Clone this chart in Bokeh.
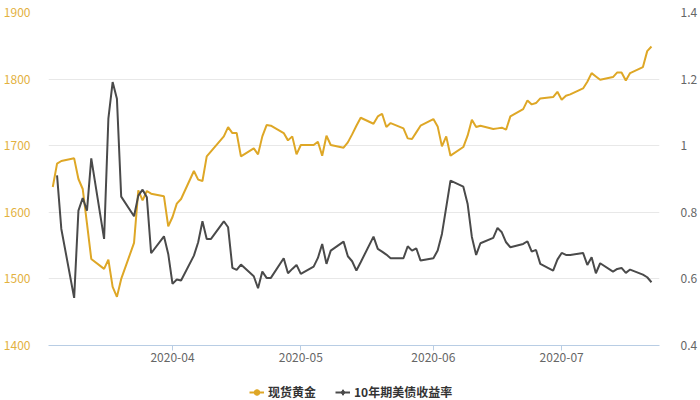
import pandas as pd
from bokeh.plotting import figure
from bokeh.layouts import column
from bokeh.models import (Range1d, LinearAxis, FixedTicker, DatetimeTickFormatter,
                          Legend, LegendItem, ColumnDataSource)
from bokeh.embed import file_html
from bokeh.resources import INLINE

# ---------------- data ----------------
gold_dates = [
    "2020-03-04", "2020-03-05", "2020-03-06", "2020-03-09", "2020-03-10", "2020-03-11", "2020-03-12",
    "2020-03-13", "2020-03-16", "2020-03-17", "2020-03-18", "2020-03-19", "2020-03-20", "2020-03-23",
    "2020-03-24", "2020-03-25", "2020-03-26", "2020-03-27", "2020-03-30", "2020-03-31", "2020-04-01",
    "2020-04-02", "2020-04-03", "2020-04-06", "2020-04-07", "2020-04-08", "2020-04-09", "2020-04-13",
    "2020-04-14", "2020-04-15", "2020-04-16", "2020-04-17", "2020-04-20", "2020-04-21", "2020-04-22",
    "2020-04-23", "2020-04-24", "2020-04-27", "2020-04-28", "2020-04-29", "2020-04-30", "2020-05-01",
    "2020-05-04", "2020-05-05", "2020-05-06", "2020-05-07", "2020-05-08", "2020-05-11", "2020-05-12",
    "2020-05-13", "2020-05-14", "2020-05-15", "2020-05-18", "2020-05-19", "2020-05-20", "2020-05-21",
    "2020-05-22", "2020-05-25", "2020-05-26", "2020-05-27", "2020-05-28", "2020-05-29", "2020-06-01",
    "2020-06-02", "2020-06-03", "2020-06-04", "2020-06-05", "2020-06-08", "2020-06-09", "2020-06-10",
    "2020-06-11", "2020-06-12", "2020-06-15", "2020-06-16", "2020-06-17", "2020-06-18", "2020-06-19",
    "2020-06-22", "2020-06-23", "2020-06-24", "2020-06-25", "2020-06-26", "2020-06-29", "2020-06-30",
    "2020-07-01", "2020-07-02", "2020-07-03", "2020-07-06", "2020-07-07", "2020-07-08", "2020-07-09",
    "2020-07-10", "2020-07-13", "2020-07-14", "2020-07-15", "2020-07-16", "2020-07-17", "2020-07-20",
    "2020-07-21", "2020-07-22",
]
gold_values = [
    1638, 1673, 1677, 1681, 1650, 1635, 1583,
    1530, 1515, 1529, 1488, 1473, 1500, 1554,
    1633, 1618, 1632, 1628, 1624, 1579, 1593,
    1613, 1620, 1662, 1649, 1647, 1684, 1714,
    1728, 1719, 1719, 1684, 1696, 1687, 1714,
    1731, 1730, 1719, 1708, 1714, 1687, 1701,
    1701, 1706, 1685, 1715, 1701, 1697, 1705,
    1717, 1730, 1742, 1733, 1744, 1748, 1728,
    1734, 1726, 1711, 1710, 1720, 1730, 1740,
    1729, 1699, 1714, 1685, 1698, 1715, 1739,
    1728, 1730, 1725, 1726, 1727, 1724, 1744,
    1755, 1768, 1762, 1764, 1771, 1773, 1781,
    1769, 1775, 1777, 1786, 1796, 1809, 1804,
    1799, 1803, 1810, 1810, 1798, 1809, 1818,
    1842, 1849,
]

yield_dates = [
    "2020-03-05", "2020-03-06", "2020-03-09", "2020-03-10", "2020-03-11", "2020-03-12",
    "2020-03-13", "2020-03-16", "2020-03-17", "2020-03-18", "2020-03-19", "2020-03-20", "2020-03-23",
    "2020-03-24", "2020-03-25", "2020-03-26", "2020-03-27", "2020-03-30", "2020-03-31", "2020-04-01",
    "2020-04-02", "2020-04-03", "2020-04-06", "2020-04-07", "2020-04-08", "2020-04-09", "2020-04-10",
    "2020-04-13", "2020-04-14", "2020-04-15", "2020-04-16", "2020-04-17", "2020-04-20", "2020-04-21",
    "2020-04-22", "2020-04-23", "2020-04-24", "2020-04-27", "2020-04-28", "2020-04-29", "2020-04-30",
    "2020-05-01", "2020-05-04", "2020-05-05", "2020-05-06", "2020-05-07", "2020-05-08", "2020-05-11",
    "2020-05-12", "2020-05-13", "2020-05-14", "2020-05-15", "2020-05-18", "2020-05-19", "2020-05-20",
    "2020-05-21", "2020-05-22", "2020-05-25", "2020-05-26", "2020-05-27", "2020-05-28", "2020-05-29",
    "2020-06-01", "2020-06-02", "2020-06-03", "2020-06-04", "2020-06-05", "2020-06-08", "2020-06-09",
    "2020-06-10", "2020-06-11", "2020-06-12", "2020-06-15", "2020-06-16", "2020-06-17", "2020-06-18",
    "2020-06-19", "2020-06-22", "2020-06-23", "2020-06-24", "2020-06-25", "2020-06-26", "2020-06-29",
    "2020-06-30", "2020-07-01", "2020-07-02", "2020-07-03", "2020-07-06", "2020-07-07", "2020-07-08",
    "2020-07-09", "2020-07-10", "2020-07-13", "2020-07-14", "2020-07-15", "2020-07-16", "2020-07-17",
    "2020-07-20", "2020-07-21", "2020-07-22",
]
yield_values = [
    0.911, 0.750, 0.543, 0.805, 0.843, 0.805,
    0.962, 0.720, 1.081, 1.191, 1.141, 0.847, 0.788,
    0.850, 0.868, 0.845, 0.677, 0.728, 0.675, 0.585,
    0.598, 0.595, 0.670, 0.710, 0.773, 0.720, 0.720,
    0.773, 0.755, 0.633, 0.627, 0.643, 0.608, 0.572,
    0.622, 0.603, 0.603, 0.662, 0.617, 0.630, 0.642,
    0.615, 0.637, 0.663, 0.705, 0.645, 0.685, 0.712,
    0.668, 0.653, 0.625, 0.650, 0.727, 0.690, 0.682,
    0.673, 0.662, 0.662, 0.698, 0.685, 0.692, 0.655,
    0.662, 0.685, 0.735, 0.815, 0.895, 0.877, 0.826,
    0.726, 0.672, 0.707, 0.723, 0.753, 0.740, 0.710,
    0.695, 0.705, 0.713, 0.682, 0.687, 0.645, 0.625,
    0.658, 0.678, 0.672, 0.672, 0.678, 0.642, 0.665,
    0.617, 0.647, 0.622, 0.630, 0.633, 0.618, 0.628,
    0.613, 0.605, 0.590,
]

series_names = ["现货黄金", "10年期美债收益率"]
left_ticks = [1400, 1500, 1600, 1700, 1800, 1900]
right_ticks = [0.4, 0.6, 0.8, 1.0, 1.2, 1.4]
right_tick_labels = ["0.4", "0.6", "0.8", "1", "1.2", "1.4"]
month_ticks = ["2020-04-01", "2020-05-01", "2020-06-01", "2020-07-01"]
x_start, x_end = "2020-03-03 00:00", "2020-07-23 21:00"

# ---------------- style ----------------
FONT = "Noto Sans CJK SC"
GOLD = "#dea726"
DARK = "#4a4a4a"

gold_src = ColumnDataSource(dict(x=pd.to_datetime(gold_dates), y=gold_values))
yield_src = ColumnDataSource(dict(x=pd.to_datetime(yield_dates), y=yield_values))

p = figure(
    frame_width=611, frame_height=333,
    x_axis_type="datetime",
    x_range=Range1d(pd.Timestamp(x_start), pd.Timestamp(x_end)),
    y_range=Range1d(1400, 1900),
    output_backend="svg", toolbar_location=None,
    min_border_left=39, min_border_right=34, min_border_top=12, min_border_bottom=39,
    background_fill_color="white", border_fill_color="white",
)
p.outline_line_color = None
p.extra_y_ranges = {"y2": Range1d(0.4, 1.4)}

# left axis
ya = p.yaxis[0]
ya.ticker = FixedTicker(ticks=left_ticks)
ya.axis_line_color = None
ya.major_tick_line_color = None
ya.minor_tick_line_color = None
ya.major_label_standoff = 12
ya.major_label_text_color = "#e3b13e"
ya.major_label_text_font = FONT
ya.major_label_text_font_size = "12px"

# right axis
ra = LinearAxis(y_range_name="y2", ticker=FixedTicker(ticks=right_ticks))
ra.major_label_overrides = {t: s for t, s in zip(right_ticks, right_tick_labels)}
ra.axis_line_color = None
ra.major_tick_line_color = None
ra.minor_tick_line_color = None
ra.major_label_standoff = 15
ra.major_label_text_color = "#666666"
ra.major_label_text_font = FONT
ra.major_label_text_font_size = "12px"
p.add_layout(ra, "right")

# x axis
xa = p.xaxis[0]
xa.ticker = FixedTicker(ticks=[pd.Timestamp(m).value // 10**6 for m in month_ticks])
fmt = "%Y-%m"
xa.formatter = DatetimeTickFormatter(years=fmt, months=fmt, days=fmt, hours=fmt,
                                     hourmin=fmt, minutes=fmt, minsec=fmt, seconds=fmt,
                                     milliseconds=fmt, microseconds=fmt)
xa.axis_line_color = "#b8cde4"
xa.major_tick_line_color = "#b8cde4"
xa.major_tick_out = 5
xa.major_tick_in = 0
xa.minor_tick_line_color = None
xa.major_label_standoff = 2
xa.major_label_text_color = "#666666"
xa.major_label_text_font = FONT
xa.major_label_text_font_size = "12px"

p.xgrid.grid_line_color = None
p.ygrid.grid_line_color = "#e8e8e8"
p.ygrid.grid_line_width = 1

p.line("x", "y", source=gold_src, line_color=GOLD, line_width=2)
p.line("x", "y", source=yield_src, line_color=DARK, line_width=2, y_range_name="y2")

# ---------------- legend strip ----------------
lg = figure(width=684, height=16, x_range=Range1d(0, 1), y_range=Range1d(0, 1),
            output_backend="svg", toolbar_location=None,
            min_border_left=0, min_border_right=0, min_border_top=0, min_border_bottom=0,
            background_fill_color="white", border_fill_color="white")
lg.axis.visible = False
lg.grid.visible = False
lg.outline_line_color = None
nan = float("nan")
g_line = lg.line(x=[nan], y=[nan], line_color=GOLD, line_width=2)
g_mark = lg.scatter(x=[nan], y=[nan], marker="circle", size=7, fill_color=GOLD, line_color=GOLD)
d_line = lg.line(x=[nan], y=[nan], line_color=DARK, line_width=2)
d_mark = lg.scatter(x=[nan], y=[nan], marker="diamond", size=7, fill_color=DARK, line_color=DARK)

legend = Legend(items=[LegendItem(label=series_names[0], renderers=[g_line, g_mark]),
                       LegendItem(label=series_names[1], renderers=[d_line, d_mark])],
                orientation="horizontal", location=(201, 0))
legend.label_text_font = FONT
legend.label_text_font_size = "12px"
legend.label_text_font_style = "bold"
legend.label_text_color = "#333333"
legend.glyph_width = 15
legend.glyph_height = 14
legend.label_standoff = 4
legend.spacing = 19
legend.padding = 0
legend.margin = 0
legend.border_line_color = None
legend.background_fill_alpha = 0
lg.add_layout(legend, "center")

layout = column(p, lg, spacing=0)
open("out.html", "w").write(file_html(layout, INLINE))
